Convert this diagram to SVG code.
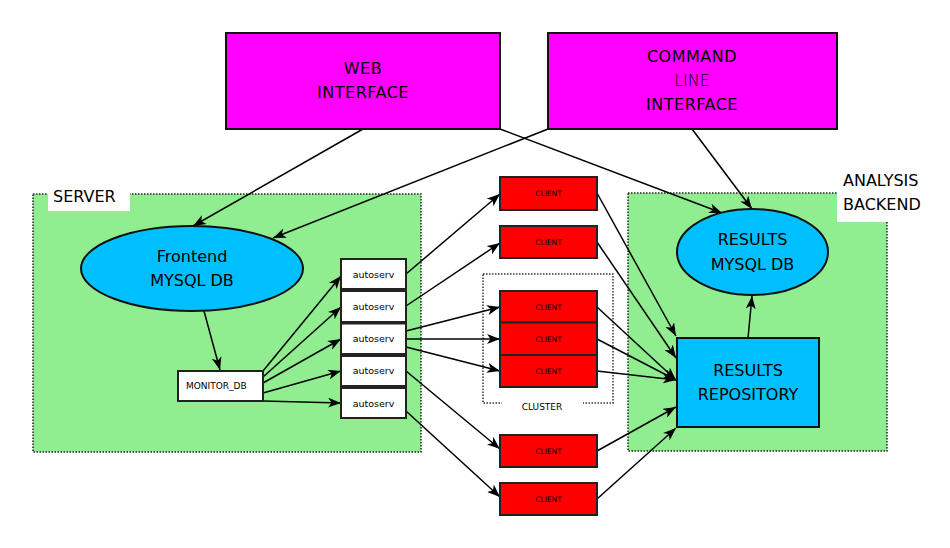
<svg xmlns="http://www.w3.org/2000/svg" width="950" height="548" viewBox="0 0 950 548">
<defs>
<style>
text{font-family:"DejaVu Sans","Liberation Sans",sans-serif;fill:#000}
.grp{fill:#90ee90;stroke:#222;stroke-width:1.5;stroke-dasharray:1.5,1.5}
.clu{fill:none;stroke:#333;stroke-width:1.5;stroke-dasharray:1.5,1.5}
.mag{fill:#ff00ff;stroke:#111;stroke-width:2}
.blue{fill:#00bfff;stroke:#111;stroke-width:2}
.white{fill:#fff;stroke:#222;stroke-width:2}
.red{fill:#ff0000;stroke:#222;stroke-width:2}
.big{font-size:16px;text-anchor:middle}
.as{font-size:9.5px;text-anchor:middle}
.cl{font-size:7.5px;text-anchor:middle}
#connectors line{stroke:#000;stroke-width:1.5;marker-end:url(#arr)}
</style>
<marker id="arr" markerUnits="userSpaceOnUse" markerWidth="14" markerHeight="10" refX="13" refY="5" orient="auto">
<path d="M0,0 L13,5 L0,10 L3.5,5 z" fill="#000"/>
</marker>
</defs>
<rect width="950" height="548" fill="#fff"/>

<g id="server">
<rect class="grp" x="33" y="194" width="388" height="258"/>
<rect x="48" y="182" width="82" height="29" fill="#fff"/>
<text x="53" y="202" style="font-size:16px">SERVER</text>
</g>
<g id="analysis-backend">
<rect class="grp" x="628" y="193" width="259" height="258"/>
<rect x="837" y="166" width="92" height="56" fill="#fff"/>
<text x="843" y="186" style="font-size:16px">ANALYSIS</text>
<text x="843" y="210" style="font-size:16px">BACKEND</text>
</g>
<g id="cluster">
<rect class="clu" x="483" y="274" width="130" height="129"/>
<rect x="502" y="398" width="81" height="10" fill="#fff"/>
<text x="542" y="410" style="font-size:9px;text-anchor:middle">CLUSTER</text>
</g>

<g id="connectors">
<line x1="363" y1="129" x2="193" y2="226"/>
<line x1="500" y1="129" x2="722" y2="213"/>
<line x1="548" y1="129" x2="273" y2="238"/>
<line x1="692" y1="129" x2="752" y2="209"/>
<line x1="204" y1="311" x2="220" y2="370"/>
<line x1="263" y1="371" x2="341" y2="276"/>
<line x1="263" y1="377" x2="341" y2="307"/>
<line x1="263" y1="383" x2="341" y2="339"/>
<line x1="263" y1="393" x2="341" y2="371"/>
<line x1="263" y1="401" x2="341" y2="403"/>
<line x1="406" y1="274" x2="500" y2="194"/>
<line x1="406" y1="306" x2="500" y2="243"/>
<line x1="406" y1="331" x2="500" y2="307"/>
<line x1="406" y1="339" x2="500" y2="339"/>
<line x1="406" y1="347" x2="500" y2="371"/>
<line x1="406" y1="371" x2="500" y2="449"/>
<line x1="406" y1="411" x2="500" y2="497"/>
<line x1="597" y1="193" x2="676" y2="336"/>
<line x1="597" y1="242" x2="676" y2="358"/>
<line x1="597" y1="307" x2="676" y2="380"/>
<line x1="597" y1="339" x2="676" y2="380"/>
<line x1="597" y1="371" x2="676" y2="380"/>
<line x1="597" y1="451" x2="676" y2="407"/>
<line x1="597" y1="499" x2="676" y2="428"/>
<line x1="748" y1="338" x2="752" y2="296"/>
</g>

<g id="web-interface">
<rect class="mag" x="226" y="33" width="274" height="96"/>
<text class="big" x="363" y="74" letter-spacing="0.5">WEB</text>
<text class="big" x="363" y="98" letter-spacing="0.5">INTERFACE</text>
</g>
<g id="command-line-interface">
<rect class="mag" x="548" y="33" width="289" height="96"/>
<text class="big" x="692" y="62" letter-spacing="0.5">COMMAND</text>
<text class="big" x="692" y="86" font-weight="200">LINE</text>
<text class="big" x="692" y="110" letter-spacing="0.5">INTERFACE</text>
</g>
<g id="frontend-db">
<ellipse class="blue" cx="192" cy="268.5" rx="111" ry="42.5"/>
<text class="big" x="192" y="262">Frontend</text>
<text class="big" x="192" y="286">MYSQL DB</text>
</g>
<g id="monitor-db">
<rect class="white" x="178" y="371" width="85" height="30"/>
<text x="186" y="389" style="font-size:9px">MONITOR_DB</text>
</g>
<g id="autoserv-1"><rect class="white" x="341" y="259" width="65" height="30"/><text class="as" x="373.5" y="277.5">autoserv</text></g>
<g id="autoserv-2"><rect class="white" x="341" y="291" width="65" height="31"/><text class="as" x="373.5" y="309.5">autoserv</text></g>
<g id="autoserv-3"><rect class="white" x="341" y="323.5" width="65" height="30.5"/><text class="as" x="373.5" y="341.5">autoserv</text></g>
<g id="autoserv-4"><rect class="white" x="341" y="356" width="65" height="30"/><text class="as" x="373.5" y="374">autoserv</text></g>
<g id="autoserv-5"><rect class="white" x="341" y="388" width="65" height="30"/><text class="as" x="373.5" y="406.5">autoserv</text></g>

<g id="client-1"><rect class="red" x="500" y="177" width="97" height="33"/><text class="cl" x="548.5" y="196">CLIENT</text></g>
<g id="client-2"><rect class="red" x="500" y="226" width="97" height="32"/><text class="cl" x="548.5" y="245">CLIENT</text></g>
<g id="client-3"><rect class="red" x="500" y="291" width="97" height="31.5"/><text class="cl" x="548.5" y="309.5">CLIENT</text></g>
<g id="client-4"><rect class="red" x="500" y="322.5" width="97" height="32.5"/><text class="cl" x="548.5" y="341.5">CLIENT</text></g>
<g id="client-5"><rect class="red" x="500" y="355" width="97" height="32"/><text class="cl" x="548.5" y="373.5">CLIENT</text></g>
<g id="client-6"><rect class="red" x="500" y="435" width="97" height="32"/><text class="cl" x="548.5" y="453.5">CLIENT</text></g>
<g id="client-7"><rect class="red" x="500" y="483" width="97" height="32"/><text class="cl" x="548.5" y="501.5">CLIENT</text></g>

<g id="results-db">
<ellipse class="blue" cx="752.5" cy="252" rx="75.5" ry="43"/>
<text class="big" x="752.5" y="245">RESULTS</text>
<text class="big" x="752.5" y="270">MYSQL DB</text>
</g>
<g id="results-repository">
<rect class="blue" x="677" y="338" width="142" height="89"/>
<text class="big" x="748" y="376">RESULTS</text>
<text class="big" x="748" y="400">REPOSITORY</text>
</g>
</svg>
